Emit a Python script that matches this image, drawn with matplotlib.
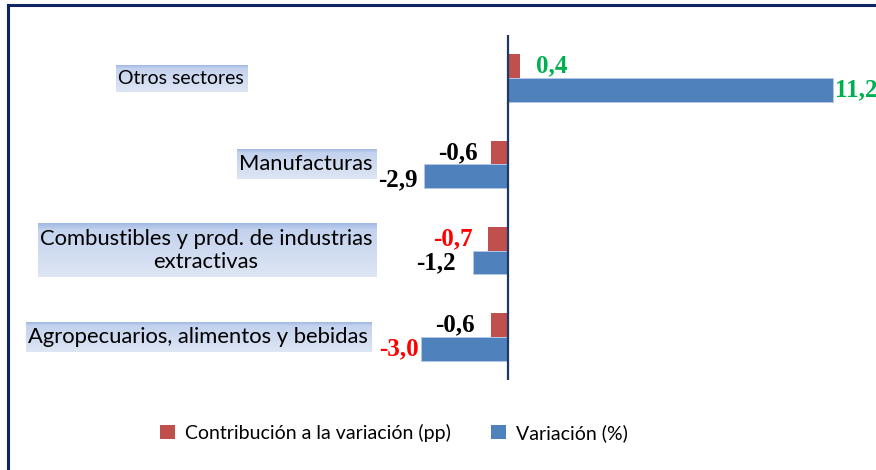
import matplotlib
matplotlib.use("Agg")
import matplotlib.pyplot as plt
import numpy as np
from matplotlib.patches import Patch
from matplotlib.lines import Line2D
from matplotlib.colors import LinearSegmentedColormap

# ---------------- data ----------------
categories = ["Otros sectores", "Manufacturas",
              "Combustibles y prod. de industrias\nextractivas",
              "Agropecuarios, alimentos y bebidas"]
contribucion = [0.4, -0.6, -0.7, -0.6]
variacion = [11.2, -2.9, -1.2, -3.0]
contrib_labels = ["0,4", "-0,6", "-0,7", "-0,6"]
var_labels = ["11,2", "-2,9", "-1,2", "-3,0"]
legend_labels = ["Contribución a la variación (pp)", "Variación (%)"]

# ---------------- style ----------------
W, H = 876, 470
RED = "#C0504D"
BLUE = "#4F81BD"
contrib_colors = ["#00B050", "black", "#FF0000", "black"]
var_colors = ["#00B050", "black", "black", "#FF0000"]
contrib_dx = [16, -13, -15, -16]   # pixel offsets of value labels
var_dx = [2, -6, -17, -2]
var_dy = [0, -4, 0, 0]
label_cx = [181, 306, 206, 198]     # pixel centers of category labels
label_sizes = [14, 15.8, 15.8, 15.8]

fig = plt.figure(figsize=(W / 100, H / 100), dpi=100)
fig.patch.set_facecolor("white")

zero_px, px_per_unit = 508, 29.0
top_px, bot_px = 35, 380
ax = fig.add_axes([0, (H - bot_px) / H, 1, (bot_px - top_px) / H])
xmin = -zero_px / px_per_unit
xmax = (W - zero_px) / px_per_unit

y = np.arange(len(categories))
h = 0.275
ax.barh(y - h / 2, contribucion, height=h, color=RED, zorder=3)
ax.barh(y + h / 2, variacion, height=h, color=BLUE, edgecolor="#B4C8E6",
        linewidth=0.6, zorder=3)
ax.axvline(0, color="#1F3864", lw=1.6, zorder=4)

ax.set_xlim(xmin, xmax)
ax.set_ylim(len(categories) - 0.5, -0.5)
ax.axis("off")

vfont = dict(family="Liberation Serif", weight="bold", size=18)
for i in range(len(categories)):
    c = contribucion[i]
    ax.annotate(contrib_labels[i], (c, i - h / 2), xytext=(contrib_dx[i], 0),
                textcoords="offset pixels", ha="left" if c >= 0 else "right",
                va="center", color=contrib_colors[i], annotation_clip=False,
                **vfont)
    v = variacion[i]
    ax.annotate(var_labels[i], (v, i + h / 2), xytext=(var_dx[i], var_dy[i]),
                textcoords="offset pixels", ha="left" if v >= 0 else "right",
                va="center", color=var_colors[i], annotation_clip=False,
                **vfont)

# category labels
texts = []
for i, cat in enumerate(categories):
    t = ax.text(label_cx[i] / W, i, cat, transform=ax.get_yaxis_transform(),
                ha="center", va="center", family="Lato", size=label_sizes[i],
                color="black", linespacing=1.2, zorder=6)
    texts.append(t)

fig.canvas.draw()
renderer = fig.canvas.get_renderer()
cmap = LinearSegmentedColormap.from_list(
    "g", [(0, "#A3B9E3"), (0.12, "#C3D2EE"), (1, "#DEE6F4")])
grad = np.linspace(0, 1, 64).reshape(-1, 1)
inv = ax.transData.inverted()
for t in texts:
    bb = t.get_window_extent(renderer)
    x0, y0 = inv.transform((bb.x0 - 2, bb.y0 - 5))
    x1, y1 = inv.transform((bb.x1 + 4, bb.y1 + 5))
    ax.imshow(grad, extent=(x0, x1, y0, y1), cmap=cmap, aspect="auto",
              origin="upper" if y0 > y1 else "lower", zorder=5, clip_on=False,
              interpolation="bilinear")
ax.set_xlim(xmin, xmax)
ax.set_ylim(len(categories) - 0.5, -0.5)

# legend
handles = [Patch(facecolor=RED), Patch(facecolor=BLUE)]
fig.legend(handles, legend_labels, loc="center", bbox_to_anchor=(394 / W, 1 - 433 / H),
           ncol=2, frameon=False, prop=dict(family="Lato", size=14),
           handlelength=0.75, handleheight=0.75, handletextpad=0.5,
           columnspacing=2.1)

# border
fig.add_artist(Line2D([7.5 / W, 7.5 / W], [0, 1 - 5 / H], transform=fig.transFigure,
                      color="#0E2463", lw=2.2))
fig.add_artist(Line2D([7.5 / W, 1], [1 - 5 / H, 1 - 5 / H], transform=fig.transFigure,
                      color="#0E2463", lw=2.2))

fig.savefig("out.png", dpi=100)
